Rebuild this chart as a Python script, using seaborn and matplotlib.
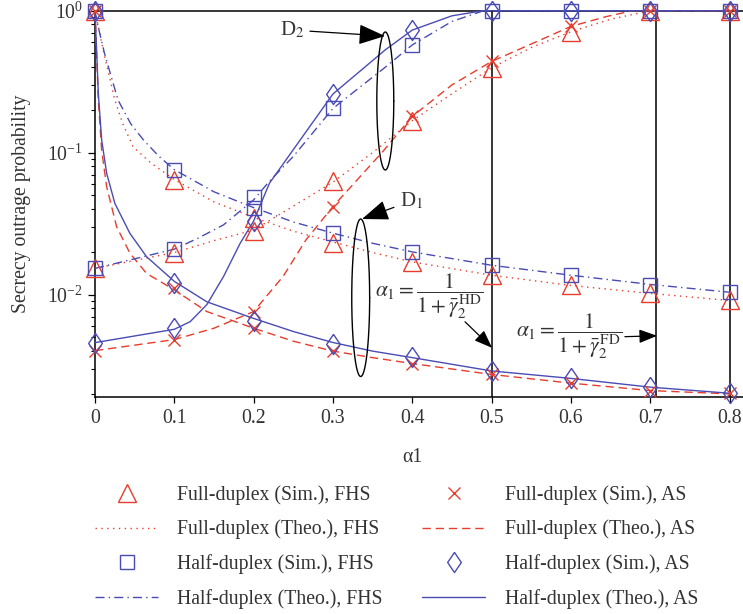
import numpy as np
import pandas as pd
import matplotlib
matplotlib.use("Agg")
import matplotlib.pyplot as plt
import seaborn as sns
from matplotlib.lines import Line2D

# ---------------- data ----------------
alpha_sim = [0, 0.1, 0.2, 0.3, 0.4, 0.5, 0.6, 0.7, 0.8]

# Simulation markers, D1 (decreasing) and D2 (increasing) branches
fd_sim_fhs_d1 = [1, 0.0646, 0.0347, 0.0230, 0.0169, 0.0137, 0.0116, 0.0102, 0.0091]
fd_sim_fhs_d2 = [0.0153, 0.0198, 0.0280, 0.0628, 0.168, 0.396, 0.711, 1, 1]
fd_sim_as_d1 = [1, 0.0111, 0.00582, 0.0040, 0.00327, 0.00274, 0.00238, 0.00211, 0.00202]
fd_sim_as_d2 = [0.00403, 0.00482, 0.0076, 0.0417, 0.180, 0.439, 0.775, 1, 1]
hd_sim_fhs_d1 = [1, 0.0759, 0.0408, 0.0271, 0.0200, 0.0161, 0.0137, 0.0116, 0.0104]
hd_sim_fhs_d2 = [0.0153, 0.0209, 0.0490, 0.205, 0.574, 1, 1, 1, 1]
hd_sim_as_d1 = [1, 0.0121, 0.00656, 0.00452, 0.00363, 0.00292, 0.00257, 0.00223, 0.00202]
hd_sim_as_d2 = [0.00459, 0.0058, 0.0328, 0.259, 0.73, 1, 1, 1, 1]

# Theoretical curves
fd_th_fhs_d1_x = [0, 0.006, 0.012, 0.025, 0.035, 0.048, 0.07, 0.1, 0.15, 0.2, 0.25, 0.3, 0.35, 0.4, 0.5, 0.6, 0.7, 0.8]
fd_th_fhs_d1_y = [1, 0.69, 0.48, 0.235, 0.16, 0.11, 0.085, 0.0646, 0.045, 0.035, 0.028, 0.0235, 0.0198, 0.017, 0.0137, 0.0116, 0.0102, 0.0091]
fd_th_fhs_d2_x = [0, 0.1, 0.15, 0.2, 0.25, 0.3, 0.35, 0.4, 0.45, 0.5, 0.55, 0.6, 0.65, 0.7, 0.8]
fd_th_fhs_d2_y = [0.0153, 0.0198, 0.024, 0.0285, 0.042, 0.062, 0.100, 0.168, 0.26, 0.396, 0.55, 0.711, 0.87, 1.0, 1.0]

fd_th_as_d1_x = [0, 0.0042, 0.0084, 0.0147, 0.0273, 0.044, 0.065, 0.1, 0.141, 0.2, 0.25, 0.3, 0.35, 0.4, 0.5, 0.6, 0.7, 0.8]
fd_th_as_d1_y = [1, 0.235, 0.104, 0.0576, 0.030, 0.0196, 0.0141, 0.0108, 0.0076, 0.0058, 0.0047, 0.0040, 0.0036, 0.00327, 0.00274, 0.00238, 0.00211, 0.00200]
fd_th_as_d2_x = [0, 0.1, 0.15, 0.2, 0.237, 0.266, 0.3, 0.363, 0.4, 0.45, 0.5, 0.561, 0.6, 0.645, 0.678, 0.8]
fd_th_as_d2_y = [0.00403, 0.00482, 0.0058, 0.0076, 0.0134, 0.0243, 0.0417, 0.102, 0.180, 0.30, 0.439, 0.62, 0.775, 0.91, 1.0, 1.0]

hd_th_fhs_d1_x = [0, 0.004, 0.012, 0.029, 0.045, 0.061, 0.08, 0.1, 0.15, 0.2, 0.25, 0.3, 0.35, 0.4, 0.5, 0.6, 0.7, 0.8]
hd_th_fhs_d1_y = [1, 0.77, 0.5, 0.235, 0.16, 0.123, 0.095, 0.0759, 0.053, 0.041, 0.0325, 0.0271, 0.023, 0.020, 0.0161, 0.0137, 0.0118, 0.0104]
hd_th_fhs_d2_x = [0, 0.1, 0.13, 0.162, 0.2, 0.22, 0.25, 0.3, 0.366, 0.4, 0.45, 0.49, 0.8]
hd_th_fhs_d2_y = [0.0153, 0.0209, 0.025, 0.031, 0.0465, 0.063, 0.094, 0.205, 0.40, 0.574, 0.84, 1.0, 1.0]

hd_th_as_d1_x = [0, 0.002, 0.0042, 0.0084, 0.0147, 0.025, 0.044, 0.065, 0.1, 0.141, 0.2, 0.25, 0.3, 0.35, 0.4, 0.5, 0.6, 0.7, 0.8]
hd_th_as_d1_y = [1, 0.53, 0.26, 0.123, 0.0716, 0.044, 0.027, 0.0185, 0.0124, 0.0089, 0.0068, 0.0055, 0.0046, 0.0040, 0.0036, 0.0029, 0.00257, 0.00223, 0.00202]
hd_th_as_d2_x = [0, 0.1, 0.12, 0.141, 0.162, 0.183, 0.2, 0.22, 0.25, 0.3, 0.366, 0.4, 0.45, 0.489, 0.8]
hd_th_as_d2_y = [0.00459, 0.0057, 0.00645, 0.0085, 0.0134, 0.023, 0.033, 0.061, 0.105, 0.259, 0.53, 0.73, 0.92, 1.0, 1.0]

alpha_thresholds = [0.5, 0.707, 0.8]
xtick_vals = [0, 0.1, 0.2, 0.3, 0.4, 0.5, 0.6, 0.7, 0.8]
xtick_labels = ["0", "0.1", "0.2", "0.3", "0.4", "0.5", "0.6", "0.7", "0.8"]

labels = ["Full-duplex (Sim.), FHS", "Full-duplex (Theo.), FHS",
          "Half-duplex (Sim.), FHS", "Half-duplex (Theo.), FHS",
          "Full-duplex (Sim.), AS", "Full-duplex (Theo.), AS",
          "Half-duplex (Sim.), AS", "Half-duplex (Theo.), AS"]

# ---------------- style ----------------
sns.set_style("ticks")
plt.rcParams["font.family"] = ["Liberation Serif", "DejaVu Serif"]
plt.rcParams["mathtext.fontset"] = "stix"

RED = "#E63D2D"
BLUE = "#4A4CB3"
TXT = "#333333"
FS = 14.2
DIAMOND = [(0, 1), (0.68, 0), (0, -1), (-0.68, 0), (0, 1)]

dot_style = dict(color=RED, lw=1.0, linestyle=(0, (1.0, 3.2)))
dash_style = dict(color=RED, lw=1.0, linestyle=(0, (6.0, 3.5)))
dashdot_style = dict(color=BLUE, lw=1.0, linestyle=(0, (6.5, 3.0, 1.0, 3.0)))
solid_style = dict(color=BLUE, lw=1.0, linestyle="-")

tri_m = dict(marker="^", markersize=12.5, markerfacecolor="none", markeredgecolor=RED, markeredgewidth=1.0)
x_m = dict(marker="x", markersize=9, markerfacecolor="none", markeredgecolor=RED, markeredgewidth=1.0)
sq_m = dict(marker="s", markersize=10, markerfacecolor="none", markeredgecolor=BLUE, markeredgewidth=1.0)
dia_m = dict(marker=DIAMOND, markersize=14.5, markerfacecolor="none", markeredgecolor=BLUE, markeredgewidth=1.0)

fig = plt.figure(figsize=(7.43, 6.14), dpi=100)
ax = fig.add_axes([95 / 743, 1 - 396.7 / 614, 648 / 743, 386 / 614])
ax.set_yscale("log")

def theo(xs, ys, style):
    df = pd.DataFrame({"alpha": xs, "p": ys})
    sns.lineplot(data=df, x="alpha", y="p", ax=ax, estimator=None, sort=False,
                 clip_on=False, zorder=3, **style)

def sim(ys, mstyle):
    df = pd.DataFrame({"alpha": alpha_sim, "p": ys})
    sns.lineplot(data=df, x="alpha", y="p", ax=ax, estimator=None, sort=False,
                 linestyle="none", clip_on=False, zorder=4, **mstyle)

theo(fd_th_fhs_d1_x, fd_th_fhs_d1_y, dot_style)
theo(fd_th_fhs_d2_x, fd_th_fhs_d2_y, dot_style)
theo(fd_th_as_d1_x, fd_th_as_d1_y, dash_style)
theo(fd_th_as_d2_x, fd_th_as_d2_y, dash_style)
theo(hd_th_fhs_d1_x, hd_th_fhs_d1_y, dashdot_style)
theo(hd_th_fhs_d2_x, hd_th_fhs_d2_y, dashdot_style)
theo(hd_th_as_d1_x, hd_th_as_d1_y, solid_style)
theo(hd_th_as_d2_x, hd_th_as_d2_y, solid_style)

sim(fd_sim_fhs_d1, tri_m)
sim(fd_sim_fhs_d2, tri_m)
sim(fd_sim_as_d1, x_m)
sim(fd_sim_as_d2, x_m)
sim(hd_sim_fhs_d1, sq_m)
sim(hd_sim_fhs_d2, sq_m)
sim(hd_sim_as_d1, dia_m)
sim(hd_sim_as_d2, dia_m)

YMIN, YMAX = 1.91e-3, 1.0
ax.set_ylim(YMIN, YMAX)
ax.set_xlim(0, 0.817)
ax.vlines(alpha_thresholds, YMIN, YMAX, color="black", lw=1.1, zorder=2)

ax.set_xticks(xtick_vals)
ax.set_xticklabels(xtick_labels)
ax.tick_params(which="major", direction="out", length=5, width=0.9, labelsize=FS,
               color="black", labelcolor=TXT)
ax.tick_params(which="minor", direction="out", length=3, width=0.8, color="black")
ax.tick_params(axis="x", which="major", length=4, pad=5)
ax.yaxis.set_minor_locator(matplotlib.ticker.LogLocator(base=10, subs=np.arange(2, 10)))
for s in ["left", "bottom", "top"]:
    ax.spines[s].set_color("black")
    ax.spines[s].set_linewidth(1.1)
ax.spines["right"].set_visible(False)
ax.grid(False)

ax.set_xlabel("α1", fontsize=FS, color=TXT)
ax.xaxis.set_label_coords(0.4 / 0.817, -0.132)
ax.set_ylabel("Secrecy outrage probability", fontsize=FS, color=TXT)
ax.yaxis.set_label_coords(-(95 - 22) / 648, (396.7 - 204) / 386)
ax.yaxis.label.set_verticalalignment("center")

# ---------------- annotations ----------------
def ellipse(cx, hw, ly0, ly1):
    t = np.linspace(0, 2 * np.pi, 200)
    c = (ly0 + ly1) / 2
    h = (ly1 - ly0) / 2
    ax.plot(cx + hw * np.cos(t), 10 ** (c + h * np.sin(t)), color="black", lw=1.0, zorder=5)

ellipse(0.366, 0.0107, np.log10(0.0755), np.log10(0.708))
ellipse(0.335, 0.0113, np.log10(0.00265), np.log10(0.0341))

arrow = dict(arrowstyle="-|>,head_length=1.1,head_width=0.42", color="black", lw=0.9,
             shrinkA=2, shrinkB=0)
ax.annotate("D$_2$", xy=(0.3657, 0.663), xytext=(0.248, 0.731), ha="center", va="center",
            fontsize=15, color=TXT, arrowprops=arrow, zorder=6)
ax.annotate("D$_1$", xy=(0.3367, 0.0341), xytext=(0.399, 0.0457), ha="center", va="center",
            fontsize=15, color=TXT, arrowprops=arrow, zorder=6)

ax.text(0.421, 0.0098, r"$\alpha_1 = \dfrac{1}{1+\bar{\gamma}_2^{\,\mathrm{HD}}}$",
        ha="center", va="center", fontsize=15.5, color=TXT, zorder=6)
ax.annotate("", xy=(0.5006, 0.00422), xytext=(0.464, 0.00664), arrowprops=arrow, zorder=6)
ax.text(0.598, 0.0051, r"$\alpha_1 = \dfrac{1}{1+\bar{\gamma}_2^{\,\mathrm{FD}}}$",
        ha="center", va="center", fontsize=15.5, color=TXT, zorder=6)
ax.annotate("", xy=(0.7087, 0.00513), xytext=(0.6646, 0.00505), arrowprops=arrow, zorder=6)

# ---------------- legend ----------------
def h_line(style):
    return Line2D([], [], **style)

def h_mark(mstyle):
    return Line2D([], [], linestyle="none", **mstyle)

handles = [h_mark(tri_m), h_line(dot_style), h_mark(sq_m), h_line(dashdot_style),
           h_mark(x_m), h_line(dash_style), h_mark(dia_m), h_line(solid_style)]
leg = fig.legend(handles, labels, ncol=2, loc="upper left",
                 bbox_to_anchor=(95 / 743, 1 - 485 / 614), frameon=False, fontsize=FS,
                 handlelength=3.2, handletextpad=0.98, columnspacing=2.0, labelspacing=0.76,
                 borderpad=0, borderaxespad=0)
for t in leg.get_texts():
    t.set_color(TXT)

fig.savefig("out.png", dpi=100)
